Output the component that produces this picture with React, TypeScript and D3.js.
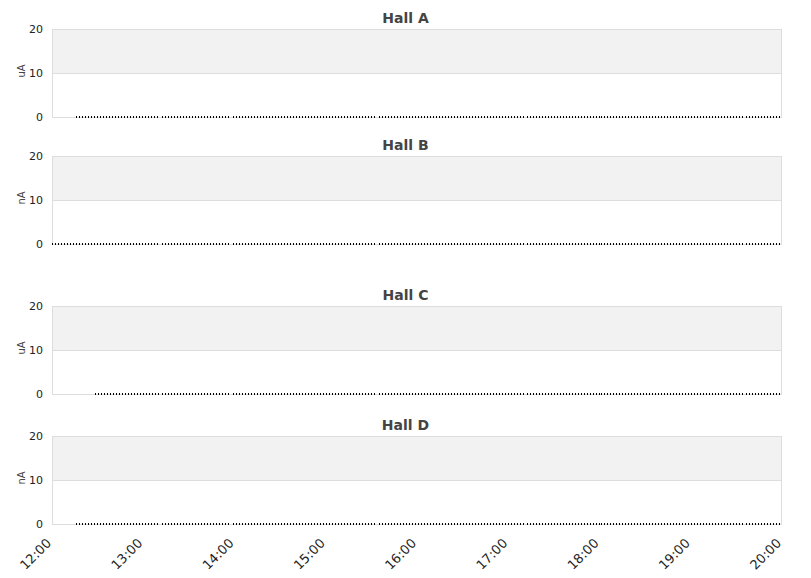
import React from "react";
import * as d3 from "d3";

// Halls, units and series (segments of zero readings, times as HH:MM)
const halls = ["Hall A", "Hall B", "Hall C", "Hall D"];
const units = ["uA", "nA", "uA", "nA"];
const yTicks = [0, 10, 20];
const xTickLabels = ["12:00", "13:00", "14:00", "15:00", "16:00", "17:00", "18:00", "19:00", "20:00"];

const segStartsA = ["12:16", "13:12", "13:59", "14:48", "15:35", "16:24", "17:12", "18:01", "18:48", "19:36"];
const segEndsA = ["13:11", "13:58", "14:47", "15:34", "16:23", "17:11", "18:00", "18:47", "19:35", "20:00"];
const segStartsB = ["12:00", "13:12", "13:59", "14:48", "15:35", "16:24", "17:12", "18:01", "18:48", "19:36"];
const segEndsB = ["13:11", "13:58", "14:47", "15:34", "16:23", "17:11", "18:00", "18:47", "19:35", "20:00"];
const segStartsC = ["12:28", "13:12", "13:59", "14:48", "15:35", "16:24", "17:12", "18:01", "18:48", "19:36"];
const segEndsC = ["13:11", "13:58", "14:47", "15:34", "16:23", "17:11", "18:00", "18:47", "19:35", "20:00"];
const segStartsD = ["12:16", "13:12", "13:59", "14:48", "15:35", "16:24", "17:12", "18:01", "18:48", "19:36"];
const segEndsD = ["13:11", "13:58", "14:47", "15:34", "16:23", "17:11", "18:00", "18:47", "19:35", "20:00"];
const segValue = 0;

const series = [
  [segStartsA, segEndsA],
  [segStartsB, segEndsB],
  [segStartsC, segEndsC],
  [segStartsD, segEndsD],
];

const panelTops = [29, 156, 306, 436];
const panelH = 88;
const left = 52;
const right = 782;

const parse = (s: string) => {
  const [h, m] = s.split(":").map(Number);
  return new Date(2020, 0, 1, h, m);
};

export default function App() {
  const x = d3.scaleTime().domain([parse("12:00"), parse("20:00")]).range([left, right]);
  const font = "DejaVu Sans, sans-serif";

  return (
    <svg width={811} height={578} style={{ position: "absolute", left: 0, top: 0 }} fontFamily={font}>
      <rect width={811} height={578} fill="#fff" />
      {halls.map((hall, i) => {
        const top = panelTops[i];
        const y = d3.scaleLinear().domain([0, 20]).range([top + panelH, top]);
        const [starts, ends] = series[i];
        const line = d3
          .line<[Date, number]>()
          .x((d) => x(d[0]))
          .y((d) => y(d[1]));
        return (
          <g key={hall}>
            <rect x={left} y={y(20)} width={right - left} height={y(10) - y(20)} fill="#f2f2f2" />
            {yTicks.map((t) => (
              <line key={t} x1={left} x2={right} y1={y(t) + 0.5} y2={y(t) + 0.5} stroke="#dddddd" strokeWidth={1} />
            ))}
            <line x1={left + 0.5} x2={left + 0.5} y1={y(20)} y2={y(0)} stroke="#dddddd" />
            <line x1={right - 0.5} x2={right - 0.5} y1={y(20)} y2={y(0)} stroke="#dddddd" />
            {yTicks.map((t) => (
              <text key={t} x={43} y={y(t)} dy="0.35em" textAnchor="end" fontSize={11} fill="#222">
                {t}
              </text>
            ))}
            <text
              transform={`translate(25,${top + panelH / 2 - 2}) rotate(-90)`}
              textAnchor="middle"
              fontSize={10}
              fill="#444"
            >
              {units[i]}
            </text>
            <text x={405.5} y={top - 6} textAnchor="middle" fontSize={14} fontWeight="bold" fill="#444">
              {hall}
            </text>
            {starts.map((s, k) => {
              const pts: [Date, number][] = [
                [parse(s), segValue],
                [parse(ends[k]), segValue],
              ];
              return (
                <path
                  key={k}
                  d={line(pts) || ""}
                  fill="none"
                  stroke="#000"
                  strokeWidth={2}
                  strokeDasharray="1,2"
                  shapeRendering="crispEdges"
                />
              );
            })}
          </g>
        );
      })}
      {xTickLabels.map((lab) => {
        const xx = x(parse(lab));
        return (
          <text
            key={lab}
            transform={`translate(${xx},${544}) rotate(-45)`}
            textAnchor="end"
            fontSize={13}
            fill="#222"
          >
            {lab}
          </text>
        );
      })}
    </svg>
  );
}
